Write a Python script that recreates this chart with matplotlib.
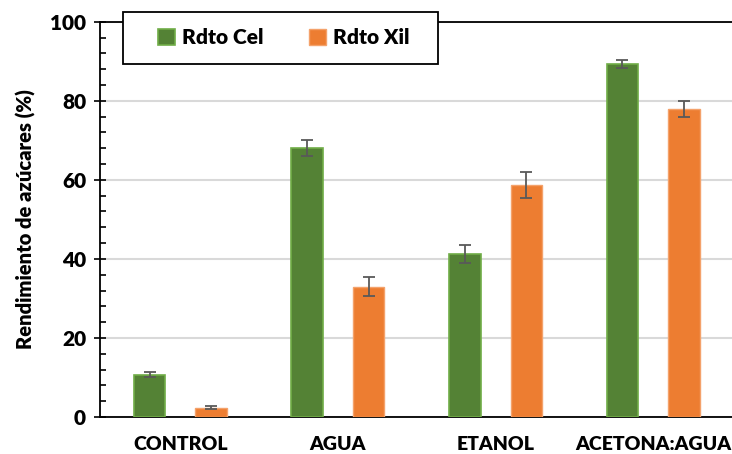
import numpy as np
import matplotlib.pyplot as plt
from matplotlib.ticker import MultipleLocator
from matplotlib.patches import Rectangle

# datos
categorias = ["CONTROL", "AGUA", "ETANOL", "ACETONA:AGUA"]
rdto_cel = [10.7, 68.0, 41.2, 89.3]
err_cel = [0.7, 2.0, 2.3, 1.0]
rdto_xil = [2.4, 33.0, 58.7, 77.9]
err_xil = [0.5, 2.3, 3.2, 2.0]

plt.rcParams['font.family'] = ['Lato', 'DejaVu Sans']
peso = 'heavy'

fig = plt.figure(figsize=(7.32, 4.54), dpi=100)
ax = fig.add_axes([0.1366, 0.0815, 0.8634, 0.8705])

x = np.arange(len(categorias))
w = 0.2
d = 0.195
err_kw = dict(ecolor='#595959', elinewidth=1.3, capsize=4, capthick=1.3)

ax.bar(x - d, rdto_cel, w, color='#548235', edgecolor='#70AD47', linewidth=1.2,
       yerr=err_cel, error_kw=err_kw, label='Rdto Cel', zorder=3)
ax.bar(x + d, rdto_xil, w, color='#ED7D31', edgecolor='#F4A26B', linewidth=1.0,
       yerr=err_xil, error_kw=err_kw, label='Rdto Xil', zorder=3)

ax.set_xlim(-0.51, 3.5)
ax.set_ylim(0, 100)
ax.set_xticks(x)
ax.set_xticklabels(categorias, fontsize=14, fontweight=peso)
ax.tick_params(axis='x', length=0, pad=14)

ax.yaxis.set_major_locator(MultipleLocator(20))
ax.yaxis.set_minor_locator(MultipleLocator(4))
ax.tick_params(axis='y', which='major', direction='inout', length=8, width=1.2,
               labelsize=15, pad=6)
ax.tick_params(axis='y', which='minor', direction='in', length=4, width=1.2)
for t in ax.get_yticklabels():
    t.set_fontweight(peso)

ax.grid(axis='y', color='#D9D9D9', linewidth=1.5, zorder=0)
ax.set_axisbelow(True)

ax.spines['right'].set_visible(False)
for s in ['left', 'bottom', 'top']:
    ax.spines[s].set_linewidth(1.3)
    ax.spines[s].set_color('black')

ax.set_ylabel('Rendimiento de azúcares (%)', fontsize=14.5, fontweight=peso, labelpad=10)

# marco de la leyenda dibujado aparte
marco = Rectangle((0.036, 0.894), 0.499, 0.131, transform=ax.transAxes,
                  facecolor='white', edgecolor='black', linewidth=1.3,
                  clip_on=False, zorder=5)
ax.add_patch(marco)
leg = ax.legend(loc='center', bbox_to_anchor=(0.291, 0.959), ncol=2,
                frameon=False, prop={'weight': peso, 'size': 15},
                handlelength=0.8, handleheight=0.8, handletextpad=0.35,
                columnspacing=2.2)
leg.set_zorder(6)

fig.savefig('out.png', dpi=100)
